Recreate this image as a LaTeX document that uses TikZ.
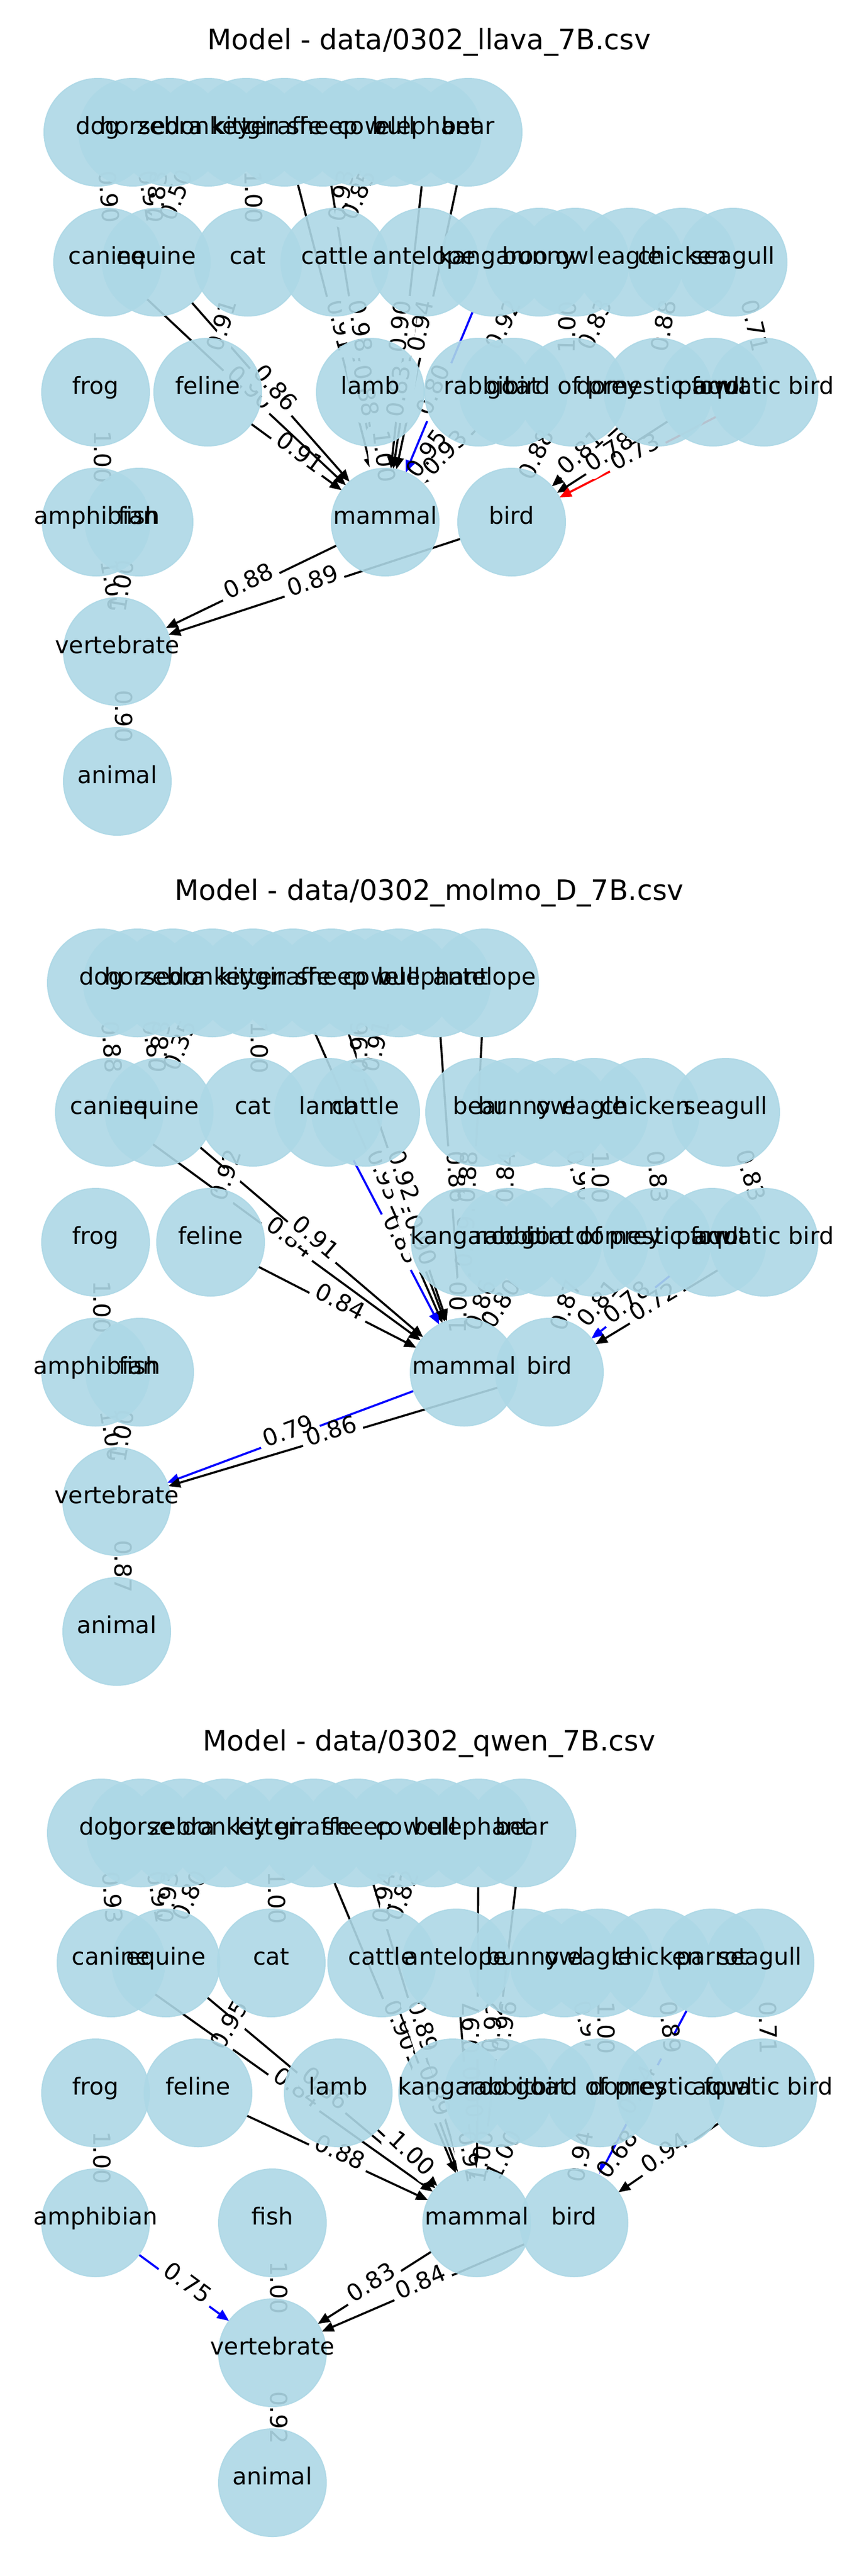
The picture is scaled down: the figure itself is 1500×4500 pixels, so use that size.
\documentclass[tikz,border=0pt]{standalone}
\usepackage{fontspec}
\setmainfont{DejaVu Sans}
\usetikzlibrary{arrows.meta}
\definecolor{lightblue}{RGB}{173,216,230}
\newcommand\nfont{\fontsize{41}{49}\selectfont}
\newcommand\tfont{\fontsize{49}{59}\selectfont}
\tikzset{
  hid/.style={circle, minimum size=188pt, inner sep=0pt, outer sep=0pt, draw=none},
  edge/.style={line width=3.6pt, -{Triangle[length=21pt,width=17pt]}},
  elab/.style={midway, sloped, fill=white, rounded corners=12pt, inner xsep=9pt, inner ysep=11pt,
    font=\nfont, text=black, text height=0.82em, text depth=0.18em},
  nfill/.style={fill=lightblue, fill opacity=0.9, draw=lightblue, draw opacity=0.9, line width=2pt},
  ntext/.style={font=\nfont, text=black, inner sep=0pt, text height=0.82em, text depth=0.18em},
  ttl/.style={font=\tfont, text=black, inner sep=0pt, anchor=base}
}
\newcommand\allnodes{%
% ---------- panel A (llava)
\myN{adog}{171}{231}{dog}\myN{ahorse}{232}{231}{horse}\myN{azebra}{297}{231}{zebra}%
\myN{adonkey}{364}{231}{donkey}\myN{akitten}{430}{231}{kitten}\myN{agiraffe}{497}{231}{giraffe}%
\myN{asheep}{564}{231}{sheep}\myN{acow}{630}{231}{cow}\myN{abull}{688}{231}{bull}%
\myN{aelephant}{747}{231}{elephant}\myN{abear}{818}{231}{bear}%
\myN{acanine}{188}{458}{canine}\myN{aequine}{273}{458}{equine}\myN{acat}{433}{458}{cat}%
\myN{acattle}{585}{458}{cattle}\myN{aantelope}{742}{458}{antelope}\myN{akangaroo}{862}{458}{kangaroo}%
\myN{abunny}{942}{458}{bunny}\myN{aowl}{1005}{458}{owl}\myN{aeagle}{1100}{458}{eagle}%
\myN{achicken}{1192}{458}{chicken}\myN{aseagull}{1281}{458}{seagull}%
\myN{afrog}{167}{685}{frog}\myN{afeline}{363}{685}{feline}\myN{alamb}{647}{685}{lamb}%
\myN{arabbit}{836}{685}{rabbit}\myN{agoat}{897}{685}{goat}\myN{abop}{1000}{685}{bird of prey}%
\myN{afowl}{1150}{685}{domestic fowl}\myN{aparrot}{1246}{685}{parrot}\myN{aaqua}{1335}{685}{aquatic bird}%
\myN{aamph}{168}{912}{amphibian}\myN{afish}{243}{912}{fish}\myN{amammal}{673}{912}{mammal}%
\myN{abird}{894}{912}{bird}\myN{avert}{205}{1138}{vertebrate}\myN{aanimal}{205}{1365}{animal}%
% ---------- panel B (molmo)
\myN{bdog}{177}{1717}{dog}\myN{bhorse}{240}{1717}{horse}\myN{bzebra}{302}{1717}{zebra}%
\myN{bdonkey}{371}{1717}{donkey}\myN{bkitten}{442}{1717}{kitten}\myN{bgiraffe}{512}{1717}{giraffe}%
\myN{bsheep}{579}{1717}{sheep}\myN{bcow}{640}{1717}{cow}\myN{bbull}{697}{1717}{bull}%
\myN{belephant}{763}{1717}{elephant}\myN{bantelope}{847}{1717}{antelope}%
\myN{bcanine}{191}{1943}{canine}\myN{bequine}{278}{1943}{equine}\myN{bcat}{442}{1943}{cat}%
\myN{blamb}{574}{1943}{lamb}\myN{bcattle}{639}{1943}{cattle}\myN{bbear}{838}{1943}{bear}%
\myN{bbunny}{900}{1943}{bunny}\myN{bowl}{971}{1943}{owl}\myN{beagle}{1038}{1943}{eagle}%
\myN{bchicken}{1128}{1943}{chicken}\myN{bseagull}{1268}{1943}{seagull}%
\myN{bfrog}{167}{2170}{frog}\myN{bfeline}{368}{2170}{feline}\myN{bkangaroo}{813}{2170}{kangaroo}%
\myN{brabbit}{890}{2170}{rabbit}\myN{bgoat}{957}{2170}{goat}\myN{bbop}{1038}{2170}{bird of prey}%
\myN{bfowl}{1148}{2170}{domestic fowl}\myN{bparrot}{1244}{2170}{parrot}\myN{baqua}{1335}{2170}{aquatic bird}%
\myN{bamph}{167}{2397}{amphibian}\myN{bfish}{244}{2397}{fish}\myN{bmammal}{811}{2397}{mammal}%
\myN{bbird}{960}{2397}{bird}\myN{bvert}{204}{2623}{vertebrate}\myN{banimal}{204}{2850}{animal}%
% ---------- panel C (qwen)
\myN{cdog}{177}{3202}{dog}\myN{chorse}{246}{3202}{horse}\myN{czebra}{318}{3202}{zebra}%
\myN{cdonkey}{393}{3202}{donkey}\myN{ckitten}{470}{3202}{kitten}\myN{cgiraffe}{548}{3202}{giraffe}%
\myN{csheep}{625}{3202}{sheep}\myN{ccow}{697}{3202}{cow}\myN{cbull}{760}{3202}{bull}%
\myN{celephant}{836}{3202}{elephant}\myN{cbear}{912}{3202}{bear}%
\myN{ccanine}{194}{3429}{canine}\myN{cequine}{290}{3429}{equine}\myN{ccat}{474}{3429}{cat}%
\myN{ccattle}{667}{3429}{cattle}\myN{cantelope}{797}{3429}{antelope}\myN{cbunny}{914}{3429}{bunny}%
\myN{cowl}{986}{3429}{owl}\myN{ceagle}{1048}{3429}{eagle}\myN{cchicken}{1148}{3429}{chicken}%
\myN{cparrot}{1244}{3429}{parrot}\myN{cseagull}{1328}{3429}{seagull}%
\myN{cfrog}{167}{3656}{frog}\myN{cfeline}{346}{3656}{feline}\myN{clamb}{591}{3656}{lamb}%
\myN{ckangaroo}{791}{3656}{kangaroo}\myN{crabbit}{871}{3656}{rabbit}\myN{cgoat}{947}{3656}{goat}%
\myN{cbop}{1048}{3656}{bird of prey}\myN{cfowl}{1172}{3656}{domestic fowl}\myN{caqua}{1333}{3656}{aquatic bird}%
\myN{camph}{167}{3883}{amphibian}\myN{cfish}{476}{3883}{fish}\myN{cmammal}{833}{3883}{mammal}%
\myN{cbird}{1003}{3883}{bird}\myN{cvert}{476}{4110}{vertebrate}\myN{canimal}{476}{4337}{animal}%
}
\newcommand\alledges{%
% ---------- panel A
\myE{adog}{acanine}{0.90}{black}\myE{ahorse}{aequine}{0.92}{black}\myE{azebra}{aequine}{0.83}{black}%
\myE{adonkey}{aequine}{0.50}{black}\myE{akitten}{acat}{1.00}{black}\myE{agiraffe}{amammal}{0.91}{black}%
\myE{asheep}{amammal}{0.98}{black}\myE{acow}{acattle}{0.93}{black}\myE{abull}{acattle}{0.85}{black}%
\myE{aelephant}{amammal}{0.90}{black}\myE{abear}{amammal}{0.94}{black}%
\myE{acanine}{amammal}{0.90}{black}\myE{aequine}{amammal}{0.86}{black}\myE{acat}{afeline}{0.91}{black}%
\myE{afeline}{amammal}{0.91}{black}\myE{acattle}{amammal}{0.88}{black}\myE{aantelope}{amammal}{0.83}{black}%
\myE{akangaroo}{amammal}{0.80}{blue}\myE{alamb}{amammal}{1.00}{black}\myE{abunny}{arabbit}{0.92}{black}%
\myE{arabbit}{amammal}{0.95}{black}\myE{agoat}{amammal}{0.93}{black}%
\myE{aowl}{abop}{1.00}{black}\myE{aeagle}{abop}{0.83}{black}\myE{achicken}{afowl}{0.88}{black}%
\myE{aseagull}{aaqua}{0.71}{black}\myE{abop}{abird}{0.88}{black}\myE{afowl}{abird}{0.81}{black}%
\myE{aparrot}{abird}{0.78}{black}\myE{aaqua}{abird}{0.73}{red}%
\myE{afrog}{aamph}{1.00}{black}\myE{aamph}{avert}{1.00}{black}\myE{afish}{avert}{1.00}{black}%
\myE{amammal}{avert}{0.88}{black}\myE{abird}{avert}{0.89}{black}\myE{avert}{aanimal}{0.90}{black}%
% ---------- panel B
\myE{bdog}{bcanine}{0.88}{black}\myE{bhorse}{bequine}{0.89}{black}\myE{bzebra}{bequine}{0.83}{black}%
\myE{bdonkey}{bequine}{0.35}{black}\myE{bkitten}{bcat}{1.00}{black}\myE{bgiraffe}{bmammal}{0.93}{black}%
\myE{bsheep}{bmammal}{0.92}{black}\myE{bcow}{bcattle}{0.96}{black}\myE{bbull}{bcattle}{0.91}{black}%
\myE{belephant}{bmammal}{0.86}{black}\myE{bantelope}{bmammal}{0.88}{black}%
\myE{bcanine}{bmammal}{0.84}{black}\myE{bequine}{bmammal}{0.91}{black}\myE{bcat}{bfeline}{0.92}{black}%
\myE{bfeline}{bmammal}{0.84}{black}\myE{blamb}{bmammal}{0.83}{blue}\myE{bcattle}{bmammal}{0.90}{black}%
\myE{bbear}{bmammal}{0.89}{black}\myE{bbunny}{brabbit}{0.84}{black}\myE{bowl}{bbop}{0.90}{black}%
\myE{beagle}{bbop}{1.00}{black}\myE{bchicken}{bfowl}{0.83}{black}\myE{bseagull}{baqua}{0.83}{black}%
\myE{bkangaroo}{bmammal}{1.00}{black}\myE{brabbit}{bmammal}{0.86}{black}\myE{bgoat}{bmammal}{0.80}{black}%
\myE{bbop}{bbird}{0.87}{black}\myE{bfowl}{bbird}{0.81}{black}\myE{bparrot}{bbird}{0.78}{blue}%
\myE{baqua}{bbird}{0.72}{black}%
\myE{bfrog}{bamph}{1.00}{black}\myE{bamph}{bvert}{1.00}{black}\myE{bfish}{bvert}{1.00}{black}%
\myE{bmammal}{bvert}{0.79}{blue}\myE{bbird}{bvert}{0.86}{black}\myE{bvert}{banimal}{0.87}{black}%
% ---------- panel C
\myE{cdog}{ccanine}{0.93}{black}\myE{chorse}{cequine}{0.91}{black}\myE{czebra}{cequine}{0.93}{black}%
\myE{cdonkey}{cequine}{0.80}{black}\myE{ckitten}{ccat}{1.00}{black}\myE{cgiraffe}{cmammal}{0.90}{black}%
\myE{csheep}{cmammal}{0.89}{black}\myE{ccow}{ccattle}{0.94}{black}\myE{cbull}{ccattle}{0.82}{black}%
\myE{celephant}{cmammal}{0.97}{black}\myE{cbear}{cmammal}{0.92}{black}%
\myE{ccanine}{cmammal}{0.84}{black}\myE{cequine}{cmammal}{0.86}{black}\myE{ccat}{cfeline}{0.95}{black}%
\myE{cfeline}{cmammal}{0.88}{black}\myE{clamb}{cmammal}{1.00}{black}\myE{ccattle}{cmammal}{0.89}{black}%
\myE{cantelope}{cmammal}{0.90}{black}\myE{cbunny}{crabbit}{0.96}{black}\myE{cowl}{cbop}{0.97}{black}%
\myE{ceagle}{cbop}{1.00}{black}\myE{cchicken}{cfowl}{0.89}{black}\myE{cparrot}{cbird}{0.84}{blue}%
\myE{cseagull}{caqua}{0.71}{black}\myE{ckangaroo}{cmammal}{0.92}{black}\myE{crabbit}{cmammal}{1.00}{black}%
\myE{cgoat}{cmammal}{1.00}{black}\myE{cbop}{cbird}{0.94}{black}\myE{cfowl}{cbird}{0.68}{black}%
\myE{caqua}{cbird}{0.94}{black}%
\myE{cfrog}{camph}{1.00}{black}\myE{camph}{cvert}{0.75}{blue}\myE{cfish}{cvert}{1.00}{black}%
\myE{cmammal}{cvert}{0.83}{black}\myE{cbird}{cvert}{0.84}{black}\myE{cvert}{canimal}{0.92}{black}%
}
\begin{document}
\begin{tikzpicture}[x=1pt, y=-1pt]
\fill[white] (0,0) rectangle (1500,4500);
\useasboundingbox (0,0) rectangle (1500,4500);
% titles
\node[ttl] (t1) at (750,86) {Model - data/0302\_llava\_7B.csv};
\node[ttl] (t2) at (750,1572) {Model - data/0302\_molmo\_D\_7B.csv};
\node[ttl] (t3) at (750,3058) {Model - data/0302\_qwen\_7B.csv};
% pass 1: invisible anchor nodes
\def\myN#1#2#3#4{\node[hid] (#1) at (#2,#3) {};}
\allnodes
% pass 2: edges
\def\myE#1#2#3#4{\draw[edge,#4] (#1) -- (#2);}
\alledges
% pass 3: edge labels
\def\myE#1#2#3#4{\path (#1) -- (#2) node[elab] {#3};}
\alledges
% pass 4: node discs
\def\myN#1#2#3#4{\path[nfill] (#1.center) circle[radius=94pt];}
\allnodes
% pass 5: node labels
\def\myN#1#2#3#4{\node[ntext] at (#1.center) {#4};}
\allnodes
\end{tikzpicture}
\end{document}
